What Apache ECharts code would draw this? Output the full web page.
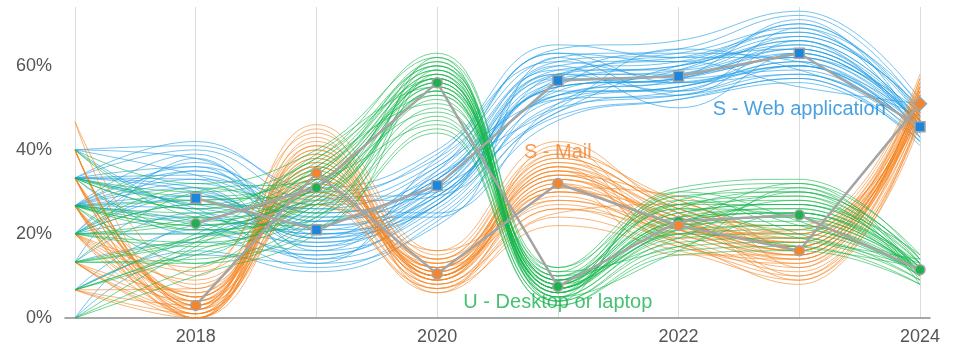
<!DOCTYPE html>
<html><head><meta charset="utf-8">
<script src="https://cdn.jsdelivr.net/npm/echarts@6/dist/echarts.min.js"></script>
<style>html,body{margin:0;padding:0;background:#fff}#c{width:956px;height:352px}</style>
</head><body><div id="c"></div>
<script>
const years = [2017, 2018, 2019, 2020, 2021, 2022, 2023, 2024];
const xTickLabels = ['2018', '2020', '2022', '2024'];
const yTickLabels = ['0%', '20%', '40%', '60%'];

// Main (estimate) lines, 2018..2024
const mainYears = [2018, 2019, 2020, 2021, 2022, 2023, 2024];
const webMain = [28.5, 21, 31.5, 56.5, 57.5, 63, 45.5];
const mailMain = [3, 34.5, 10.5, 32, 22, 16, 51];
const desktopMain = [22.5, 31, 56, 7.5, 23, 24.5, 11.5];

const seriesNames = ['S - Web application', 'S - Mail', 'U - Desktop or laptop'];

// Resampled lines (2017..2024)
const webSamples = [
 [33.3,42,30,38,62,64,72,50],[26.7,35,25,33,58,60,66,47],[40,38,22,29,55,57,62,45],
 [20,30,18,27,52,55,60,44],[33.3,26,14,25,50,53,58,43],[26.7,22,12,24,48,52,56,42],
 [13.3,18,15,28,54,58,64,46],[26.7,32,23,35,60,62,68,49],[33.3,40,28,37,63,61,70,48],
 [20,24,20,31,57,56,63,46],[40,34,26,36,59,59,67,50],[6.7,16,11,23,49,54,60,44],
 [26.7,28,19,30,55,57,64,47],[33.3,30,21,32,56,60,65,45],[20,20,16,26,51,55,61,43],
 [0,15,13,22,47,52,57,41],[26.7,36,27,34,61,63,69,51],[33.3,27,24,33,58,58,62,46],
 [13.3,25,17,29,53,56,59,44],[20,29,22,31,57,59,66,47],[26.7,33,29,39,64,66,73,52],
 [40,41,31,40,65,62,70,49],[33.3,31,19,28,54,54,60,45],[26.7,23,15,27,52,53,57,42],
 [20,37,25,33,59,61,68,48],[6.7,21,18,30,56,58,63,46],[33.3,34,23,32,55,57,65,47],
 [26.7,26,20,29,53,55,61,45],
 [26.7,29,17,34,50,64,59,48],[20,35,24,24,62,53,66,43],[33.3,20,28,30,58,61,55,51],
 [13.3,38,19,36,53,57,71,44],[40,25,21,27,60,50,63,47],[26.7,31,14,33,57,63,61,42],
 [20,27,26,25,51,59,67,50],[33.3,36,16,35,63,56,58,45],[0,22,23,31,49,60,64,46],
 [26.7,39,20,27,58,54,69,44],[6.7,19,27,29,55,62,62,49],[33.3,33,13,38,61,57,60,47]
];
const mailSamples = [
 [40,2,36,10,34,23,16,52],[33.3,4,40,12,38,26,19,55],[26.7,0,30,8,28,20,13,49],
 [20,1,33,9,31,22,15,51],[13.3,6,38,13,36,25,18,54],[6.7,3,28,7,26,18,11,48],
 [46.7,10,44,15,40,27,21,57],[33.3,5,35,11,33,24,17,53],[26.7,2,32,9,30,21,14,50],
 [40,0,37,11,35,22,16,52],[20,3,34,10,32,21,15,51],[13.3,1,31,8,29,19,12,49],
 [33.3,7,42,14,39,28,20,56],[26.7,4,36,12,34,23,17,53],[6.7,0,29,6,24,17,10,47],
 [20,12,46,16,42,26,22,58],[40,3,34,10,31,20,14,50],[33.3,1,33,9,33,23,18,52],
 [26.7,5,39,13,37,24,19,54],[13.3,2,27,7,22,16,9,46],[20,4,35,11,30,22,16,51],
 [33.3,0,38,10,35,25,17,53],[26.7,8,30,12,27,18,8,48],[40,3,32,10,33,21,15,50],
 [6.7,1,37,9,36,23,16,52],[20,6,41,14,38,26,20,55],
 [33.3,5,29,14,36,19,19,50],[26.7,1,43,8,25,27,12,56],[20,9,31,12,39,20,21,47],
 [40,2,40,6,30,24,10,53],[13.3,4,27,13,34,28,17,49],[26.7,0,36,10,41,18,13,55],
 [6.7,7,33,16,28,22,20,52],[33.3,3,45,9,32,15,15,54],[20,11,30,11,37,25,9,48],
 [46.7,2,39,7,26,21,18,57],[26.7,5,34,12,35,17,14,51],[13.3,0,41,10,31,29,16,53]
];
const desktopSamples = [
 [26.7,22,31,56,7,23,25,11],[20,18,27,52,5,20,22,10],[33.3,28,36,60,9,27,29,13],
 [13.3,14,24,48,4,17,18,9],[40,32,40,62,11,30,32,15],[6.7,16,26,54,6,21,22,11],
 [26.7,25,33,58,8,25,27,12],[20,20,29,55,7,22,24,11],[0,12,21,45,3,16,17,8],
 [33.3,26,35,59,10,26,30,14],[13.3,19,30,57,6,24,26,12],[26.7,23,32,57,8,23,25,10],
 [20,24,34,61,9,28,31,13],[6.7,15,25,50,5,19,20,10],[33.3,30,38,63,12,31,33,14],
 [26.7,21,28,53,6,22,23,11],[20,17,30,56,7,24,25,12],[13.3,13,23,47,4,18,19,9],
 [40,27,37,60,10,27,28,13],[26.7,22,31,55,7,21,24,11],[0,10,20,44,3,15,16,8],
 [20,23,33,58,8,25,27,12],[33.3,29,35,59,9,29,30,14],[13.3,18,27,54,6,20,21,10],
 [26.7,24,29,57,7,23,26,11],[6.7,20,32,56,8,26,24,12],
 [20,27,25,59,5,29,20,12],[26.7,15,36,51,10,19,30,9],[33.3,21,28,61,6,26,19,14],
 [13.3,30,33,46,8,22,32,10],[6.7,18,39,55,11,17,25,13],[40,24,22,58,4,30,23,11],
 [26.7,13,34,53,9,24,29,8],[20,31,27,62,7,20,17,12],[0,17,31,49,12,27,27,15],
 [33.3,26,38,57,5,16,31,10],[13.3,19,24,60,7,28,22,13],[26.7,28,30,54,9,21,28,11]
];

// label anchor positions (data coords)
const labelAnchors = [[2023.0, 49.5], [2021.0, 39.5], [2021.0, 3.8]];

const colors = ['#1b9be6', '#f7841f', '#16b84c'];
const markerColors = ['#1b86db', '#f5842a', '#1fb04f'];
const textColors = ['#1a8ad8', '#f0832e', '#18b24f'];

const series = [];
function addSamples(arr, color) {
  arr.forEach(function (row) {
    series.push({
      type: 'line', smooth: 0.45, symbol: 'none', silent: true,
      lineStyle: { color: color, width: 1, opacity: 0.6 },
      data: row.map(function (v, i) { return [years[i], v]; }),
      z: 2
    });
  });
}
addSamples(webSamples, colors[0]);
addSamples(mailSamples, colors[1]);
addSamples(desktopSamples, colors[2]);

function addMain(vals, color, symbol, lastSymbol) {
  series.push({
    type: 'line', symbol: symbol, symbolSize: 10,
    lineStyle: { color: '#a4a4a4', width: 2.5 },
    itemStyle: { color: color, borderColor: '#a4a4a4', borderWidth: 1.5 },
    data: vals.map(function (v, i) {
      const d = { value: [mainYears[i], v] };
      if (lastSymbol && i === vals.length - 1) { d.symbol = lastSymbol; d.symbolSize = 13; }
      return d;
    }),
    z: 5
  });
}
addMain(desktopMain, markerColors[2], 'circle');
addMain(mailMain, markerColors[1], 'circle', 'diamond');
addMain(webMain, markerColors[0], 'rect');

series.push({
  type: 'scatter', symbolSize: 0, silent: true, z: 6,
  data: labelAnchors.map(function (p, i) {
    return {
      value: p,
      label: {
        show: true, position: 'inside', formatter: seriesNames[i],
        color: textColors[i], fontSize: 20, fontFamily: 'Liberation Sans, Arial, sans-serif'
      }
    };
  })
});

const chart = echarts.init(document.getElementById('c'), null, { renderer: 'canvas' });
chart.setOption({
  animation: false,
  backgroundColor: '#fff',
  grid: [
    { left: 75, right: 36, top: 7, bottom: 34 },
    { left: 65, right: 26, top: 7, bottom: 34 }
  ],
  xAxis: [
    {
      type: 'value', gridIndex: 0, min: 2017, max: 2024, interval: 1,
      axisLine: { show: false }, axisTick: { show: false },
      axisLabel: {
        color: '#555', fontSize: 18, margin: 10, fontFamily: 'Liberation Sans, Arial, sans-serif',
        formatter: function (v) { const s = String(v); return xTickLabels.indexOf(s) >= 0 ? s : ''; }
      },
      splitLine: { show: true, lineStyle: { color: '#dcdcdc', width: 1 } }
    },
    {
      type: 'value', gridIndex: 1, min: 0, max: 1,
      axisLine: { show: true, onZero: false, lineStyle: { color: '#8a8a8a', width: 1.5 } },
      axisTick: { show: false }, axisLabel: { show: false }, splitLine: { show: false }
    }
  ],
  yAxis: [
    {
      type: 'value', gridIndex: 0, min: 0, max: 74, interval: 20,
      axisLine: { show: false }, axisTick: { show: false }, splitLine: { show: false },
      axisLabel: {
        color: '#555', fontSize: 18, margin: 23, fontFamily: 'Liberation Sans, Arial, sans-serif',
        formatter: function (v) { const s = v + '%'; return yTickLabels.indexOf(s) >= 0 ? s : ''; }
      }
    },
    {
      type: 'value', gridIndex: 1, min: 0, max: 1, show: false
    }
  ],
  series: series
});
</script>
</body></html>
